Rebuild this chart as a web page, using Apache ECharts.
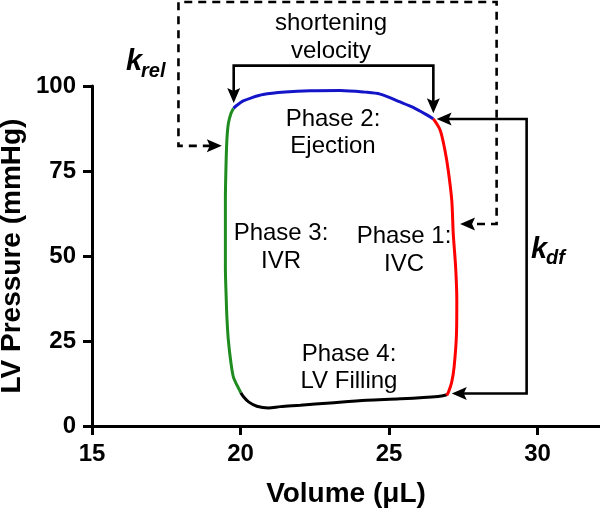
<!DOCTYPE html>
<html>
<head>
<meta charset="utf-8">
<script src="https://cdn.jsdelivr.net/npm/echarts@6/dist/echarts.min.js"></script>
<style>html,body{margin:0;padding:0;background:#fff}#c{width:600px;height:510px}</style>
</head>
<body>
<div id="c"></div>
<script>
// ---- data (volume in µL, pressure in mmHg) ----
const X_TICKS = [15, 20, 25, 30];
const Y_TICKS = [0, 25, 50, 75, 100];

// Phase 1: isovolumic contraction (red)
const IVC_V = [26.49, 26.72, 26.88, 26.99, 27.11, 27.16, 27.24, 27.28, 27.27, 27.19, 27.11, 27.00, 26.94];
const IVC_P = [90.3, 87.0, 81.1, 75.3, 66.4, 56.6, 46.8, 37.0, 27.3, 17.4, 13.0, 10.0, 9.0];
// Phase 2: ejection (blue)
const EJ_V = [19.76, 19.89, 20.09, 20.39, 20.76, 21.50, 22.34, 23.35, 24.19, 24.70, 25.37, 25.81, 26.27, 26.49];
const EJ_P = [93.4, 94.4, 95.6, 96.6, 97.5, 98.2, 98.6, 98.7, 98.2, 97.6, 95.3, 93.7, 91.5, 90.3];
// Phase 3: isovolumic relaxation (green)
const IVR_V = [20.01, 19.88, 19.76, 19.68, 19.59, 19.54, 19.52, 19.49, 19.49, 19.49, 19.51, 19.54, 19.59, 19.68, 19.76];
const IVR_P = [9.8, 12.0, 14.4, 18.4, 25.2, 32.1, 37.0, 46.8, 56.6, 66.4, 76.2, 84.1, 89.0, 92.0, 93.4];
// Phase 4: filling (black)
const FILL_V = [26.94, 26.65, 25.37, 24.25, 23.02, 22.01, 21.34, 20.94, 20.55, 20.27, 20.10, 20.01];
const FILL_P = [9.2, 8.7, 8.0, 7.6, 6.8, 6.1, 5.7, 5.3, 5.8, 7.1, 8.6, 9.8];

// annotation arrows (data units), arrowheads at both ends
const ARROW_SHORTENING = [[19.77, 95.0], [19.77, 106.0], [26.49, 106.0], [26.49, 92.0]];
const ARROW_KDF = [[27.11, 9.55], [29.63, 9.55], [29.63, 90.3], [26.60, 90.3]];
const ARROW_KREL = [[19.37, 82.4], [17.91, 82.4], [17.91, 124.7], [28.62, 124.7], [28.62, 59.4], [27.39, 59.4]];

const FONT = '"Liberation Sans", Arial, Helvetica, sans-serif';

function pairs(a, b) { return a.map((v, i) => [v, b[i]]); }

function arrowSeries(path, dashed) {
  return {
    type: 'custom',
    coordinateSystem: 'cartesian2d',
    clip: false,
    silent: true,
    z: 5,
    data: path,
    renderItem: function (params, api) {
      if (params.dataIndex !== 0) return null;
      const pts = path.map(p => api.coord(p));
      const L = 15, W = 6.5, N = 3;
      const children = [];
      function head(tip, prev) {
        const dx = tip[0] - prev[0], dy = tip[1] - prev[1];
        const len = Math.sqrt(dx * dx + dy * dy) || 1;
        const ux = dx / len, uy = dy / len;
        const nx = -uy, ny = ux;
        const bx = tip[0] - ux * L, by = tip[1] - uy * L;
        children.push({
          type: 'polygon',
          shape: { points: [tip, [bx + nx * W, by + ny * W], [tip[0] - ux * (L - N), tip[1] - uy * (L - N)], [bx - nx * W, by - ny * W]] },
          style: { fill: '#000' }
        });
        return [tip[0] - ux * (L - N - 1), tip[1] - uy * (L - N - 1)];
      }
      const line = pts.map(p => p.slice());
      line[0] = head(pts[0], pts[1]);
      line[line.length - 1] = head(pts[pts.length - 1], pts[pts.length - 2]);
      children.unshift({
        type: 'polyline',
        shape: { points: line },
        style: { stroke: '#000', lineWidth: 2.6, fill: null, lineDash: dashed ? [8, 6] : null, lineJoin: 'miter' }
      });
      return { type: 'group', children: children };
    }
  };
}

function loop(data, color) {
  return {
    type: 'line', data: data, showSymbol: false, smooth: 0.3, silent: true, z: 3,
    lineStyle: { color: color, width: 3 }, itemStyle: { color: color }
  };
}

const chart = echarts.init(document.getElementById('c'), null, { renderer: 'canvas' });
const txt = (t, x, y, size, extra) => ({
  type: 'text', x: x, y: y, silent: true,
  style: Object.assign({ text: t, font: size + 'px ' + FONT, fill: '#000', align: 'center', verticalAlign: 'middle', lineHeight: 28 }, extra || {})
});

chart.setOption({
  animation: false,
  backgroundColor: '#fff',
  grid: { left: 92, right: 0, top: 86, bottom: 84, containLabel: false, outerBoundsMode: 'none' },
  xAxis: {
    type: 'value', min: 15, max: 32.1, interval: 5,
    name: 'Volume (\u03bcL)', nameLocation: 'middle', nameGap: 54, nameMoveOverlap: false,
    nameTextStyle: { fontFamily: FONT, fontWeight: 'bold', fontSize: 28, color: '#000' },
    axisLine: { show: true, onZero: false, lineStyle: { color: '#000', width: 3 } },
    axisTick: { show: true, length: 9, lineStyle: { color: '#000', width: 3 }, customValues: X_TICKS },
    axisLabel: { fontFamily: FONT, fontWeight: 'bold', fontSize: 24, color: '#000', margin: 16, customValues: X_TICKS },
    splitLine: { show: false }
  },
  yAxis: {
    type: 'value', min: 0, max: 100, interval: 25,
    name: 'LV Pressure (mmHg)', nameLocation: 'middle', nameGap: 66, nameRotate: 90, nameMoveOverlap: false,
    nameTextStyle: { fontFamily: FONT, fontWeight: 'bold', fontSize: 28, color: '#000' },
    axisLine: { show: true, onZero: false, lineStyle: { color: '#000', width: 3 } },
    axisTick: { show: true, length: 9, lineStyle: { color: '#000', width: 3 }, customValues: Y_TICKS },
    axisLabel: { fontFamily: FONT, fontWeight: 'bold', fontSize: 24, color: '#000', margin: 16, customValues: Y_TICKS },
    splitLine: { show: false }
  },
  series: [
    loop(pairs(EJ_V, EJ_P), '#1414c8'),
    loop(pairs(IVR_V, IVR_P), '#1e8c1e'),
    loop(pairs(FILL_V, FILL_P), '#000000'),
    loop(pairs(IVC_V, IVC_P), '#ff0000'),
    arrowSeries(ARROW_SHORTENING, false),
    arrowSeries(ARROW_KDF, false),
    arrowSeries(ARROW_KREL, true)
  ],
  graphic: [
    txt('shortening\nvelocity', 331, 37, 24),
    txt('Phase 2:\nEjection', 333, 133, 24, { lineHeight: 27 }),
    txt('Phase 3:\nIVR', 281, 247, 24),
    txt('Phase 1:\nIVC', 404, 250, 24),
    txt('Phase 4:\nLV Filling', 349, 368, 24, { lineHeight: 27 }),
    txt('k', 126, 62, 29, { font: 'italic bold 29px ' + FONT, align: 'left' }),
    txt('rel', 141, 71, 20, { font: 'italic bold 20px ' + FONT, align: 'left' }),
    txt('k', 531, 250, 29, { font: 'italic bold 29px ' + FONT, align: 'left' }),
    txt('df', 546, 258, 20, { font: 'italic bold 20px ' + FONT, align: 'left' })
  ]
});
</script>
</body>
</html>
